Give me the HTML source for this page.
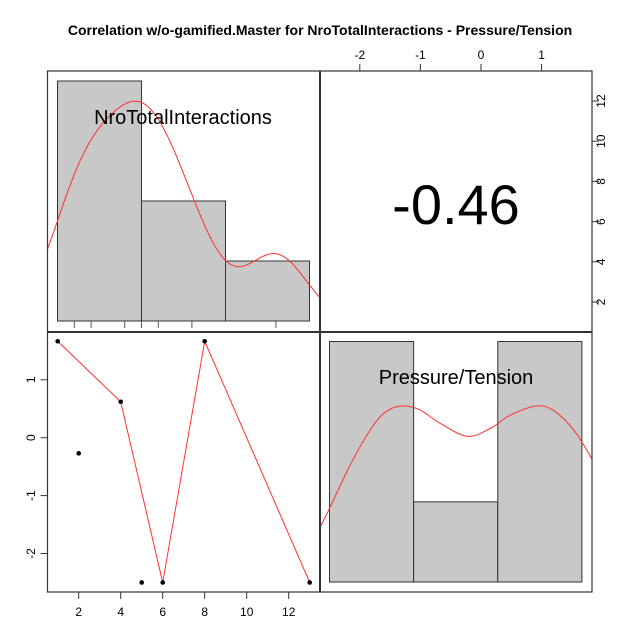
<!DOCTYPE html>
<html><head><meta charset="utf-8"><style>
body{margin:0;background:#fff}
svg{display:block;font-family:"Liberation Sans",Arial,sans-serif}
</style></head><body>
<svg id="chart" width="640" height="640" viewBox="0 0 640 640">
<defs>
<clipPath id="cTL"><rect x="47.5" y="71" width="272.5" height="260"/></clipPath>
<clipPath id="cBR"><rect x="320" y="332" width="272" height="260"/></clipPath>
</defs>
<text x="320" y="35" text-anchor="middle" font-size="14" font-weight="bold">Correlation w/o-gamified.Master for NroTotalInteractions - Pressure/Tension</text>
<g id="g"></g>
</svg>
<script>
const interactions = [1, 2, 4, 5, 6, 8, 13];
const pressure = [1.665, -0.27, 0.62, -2.5, -2.5, 1.665, -2.5];
const smoothX = [1, 4, 6, 8, 13];
const smoothY = [1.665, 0.62, -2.5, 1.665, -2.5];
const pressureDensX = [-2.657, -2.49, -2.16, -1.83, -1.58, -1.30, -1.01, -0.68, -0.23, 0.15, 0.48, 0.92, 1.22, 1.55, 1.83];
const pressureDensY = [0.070, 0.096, 0.150, 0.195, 0.218, 0.226, 0.221, 0.204, 0.187, 0.197, 0.214, 0.226, 0.219, 0.193, 0.158];
const corrLabel = "-0.46";
const xTicks = [2, 4, 6, 8, 10, 12];
const yTicks = [-2, -1, 0, 1];
const topTicks = [-2, -1, 0, 1];
const rightTicks = [2, 4, 6, 8, 10, 12];
const histBreaksX = [0, 5, 10, 15];

const NS = "http://www.w3.org/2000/svg";
const g = document.getElementById('g');
function el(t, a, p) { const e = document.createElementNS(NS, t); for (const k in a) e.setAttribute(k, a[k]); (p || g).appendChild(e); return e; }

const sxB = v => 57.7 + (v - 1) * 21;
const syB = v => 437.7 - v * 57.9;
const sxT = v => 74.3 + (v - 1) * 16.8;
const sxP = v => 481 + v * 60.6;
const syR = v => 302 - (v - 2) * 20.1;

function bw(d) {
  const n = d.length, m = d.reduce((a, b) => a + b, 0) / n;
  const sd = Math.sqrt(d.reduce((a, b) => a + (b - m) ** 2, 0) / (n - 1));
  const s = [...d].sort((a, b) => a - b);
  const q = p => { const h = (n - 1) * p, lo = Math.floor(h); return s[lo] + (h - lo) * ((s[lo + 1] ?? s[lo]) - s[lo]); };
  const iqr = (q(0.75) - q(0.25)) / 1.34;
  return 0.9 * Math.min(sd, iqr) * Math.pow(n, -0.2);
}
function kde(d, x, h) { return d.reduce((a, v) => a + Math.exp(-0.5 * ((x - v) / h) ** 2), 0) / (d.length * h * Math.sqrt(2 * Math.PI)); }
function smoothPath(pts) {
  let d = 'M' + pts[0][0] + ',' + pts[0][1];
  for (let i = 0; i < pts.length - 1; i++) {
    const p0 = pts[i - 1] || pts[i], p1 = pts[i], p2 = pts[i + 1], p3 = pts[i + 2] || p2;
    const c1 = [p1[0] + (p2[0] - p0[0]) / 6, p1[1] + (p2[1] - p0[1]) / 6];
    const c2 = [p2[0] - (p3[0] - p1[0]) / 6, p2[1] - (p3[1] - p1[1]) / 6];
    d += `C${c1[0].toFixed(1)},${c1[1].toFixed(1)} ${c2[0].toFixed(1)},${c2[1].toFixed(1)} ${p2[0].toFixed(1)},${p2[1].toFixed(1)}`;
  }
  return d;
}

// top-left histogram
{
  const base = 321, n = interactions.length, pxPerDen = 2100;
  const gg = el('g', {'clip-path': 'url(#cTL)'});
  
  
  for (let i = 0; i < histBreaksX.length - 1; i++) {
    const a = histBreaksX[i], b = histBreaksX[i + 1];
    const c = interactions.filter(v => v > a && v <= b || (i == 0 && v == a)).length;
    const den = c / (n * (b - a));
    const r = el('rect', {x: sxT(a), y: base - den * pxPerDen, width: sxT(b) - sxT(a), height: den * pxPerDen, fill: '#c8c8c8', stroke: '#333', 'stroke-width': 1}, gg);
    
    
  }
  const h = bw(interactions); let d = '';
  for (let px = 40; px <= 325; px += 2) { const v = (px - 74.3) / 16.8 + 1; d += (d ? 'L' : 'M') + px + ',' + (base - kde(interactions, v, h) * pxPerDen).toFixed(1); }
  const p = el('path', {d, fill: 'none', stroke: '#ff3030', 'stroke-width': 1}, gg);
  
  
  for (const v of interactions) { const l = el('line', {x1: sxT(v), x2: sxT(v), y1: 321, y2: 328, stroke: '#555', 'stroke-width': 1});   }
  const t = el('text', {x: 183, y: 124, 'text-anchor': 'middle', 'font-size': 20});
  t.textContent = 'NroTotalInteractions';
  
  
}
// bottom-right histogram
{
  const base = 582, n = pressure.length, pxPerDen = 779;
  const mn = Math.min(...pressure), mx = Math.max(...pressure), w = (mx - mn) / 3;
  const gg = el('g', {'clip-path': 'url(#cBR)'});
  
  
  for (let i = 0; i < 3; i++) {
    const a = mn + i * w, b = a + w;
    const c = pressure.filter(v => (v > a + 1e-9 || (i == 0 && v >= a - 1e-9)) && v <= b + 1e-9).length;
    const den = c / (n * w);
    const r = el('rect', {x: sxP(a), y: base - den * pxPerDen, width: sxP(b) - sxP(a), height: den * pxPerDen, fill: '#c8c8c8', stroke: '#333', 'stroke-width': 1}, gg);
    
    
  }
  const pts = pressureDensX.map((v, i) => [sxP(v), base - pressureDensY[i] * pxPerDen]);
  const p = el('path', {d: smoothPath(pts), fill: 'none', stroke: '#ff3030', 'stroke-width': 1}, gg);
  
  
  const t = el('text', {x: 456, y: 384, 'text-anchor': 'middle', 'font-size': 20});
  t.textContent = 'Pressure/Tension';
  
  
}
// correlation text
{
  const t = el('text', {x: 456, y: 224, 'text-anchor': 'middle', 'font-size': 56});
  t.textContent = corrLabel;
  
  
}
// scatter
{
  const d = smoothX.map((v, i) => (i ? 'L' : 'M') + sxB(v) + ',' + syB(smoothY[i])).join('');
  const p = el('path', {d, fill: 'none', stroke: '#ff3030', 'stroke-width': 1});
  
  
  interactions.forEach((v, i) => {
    const c = el('circle', {cx: sxB(v), cy: syB(pressure[i]), r: 2.3, fill: '#000'});
    
    
  });
}
// panel borders
[[47.5, 71, 272.5, 261], [320, 71, 272, 261], [47.5, 332, 272.5, 260], [320, 332, 272, 260]].forEach(b => {
  const r = el('rect', {x: b[0], y: b[1], width: b[2], height: b[3], fill: 'none', stroke: '#333', 'stroke-width': 1.2});
  
  
});
el('line', {x1: 320, x2: 320, y1: 71, y2: 592, stroke: '#333', 'stroke-width': 2});
el('line', {x1: 47.5, x2: 592, y1: 332, y2: 332, stroke: '#333', 'stroke-width': 2});
// axes
function axisLine(x1, y1, x2, y2) { el('line', {x1, y1, x2, y2, stroke: '#333', 'stroke-width': 1}); }
axisLine(sxB(2), 592, sxB(12), 592);
xTicks.forEach(v => { axisLine(sxB(v), 592, sxB(v), 599); const t = el('text', {x: sxB(v), y: 616, 'text-anchor': 'middle', 'font-size': 12}); t.textContent = v;   });
axisLine(47.5, syB(-2), 47.5, syB(1));
yTicks.forEach(v => { axisLine(40.5, syB(v), 47.5, syB(v)); const t = el('text', {x: 35, y: syB(v), 'text-anchor': 'middle', 'font-size': 12, transform: `rotate(-90 35 ${syB(v)})`}); t.textContent = v;   });
axisLine(sxP(-2), 71, sxP(1), 71);
topTicks.forEach(v => { axisLine(sxP(v), 64, sxP(v), 71); const t = el('text', {x: sxP(v), y: 59, 'text-anchor': 'middle', 'font-size': 12}); t.textContent = v;   });
axisLine(592, syR(2), 592, syR(12));
rightTicks.forEach(v => { axisLine(592, syR(v), 599, syR(v)); const t = el('text', {x: 605, y: syR(v), 'text-anchor': 'middle', 'font-size': 12, transform: `rotate(-90 605 ${syR(v)})`}); t.textContent = v;   });
</script>
</body></html>
